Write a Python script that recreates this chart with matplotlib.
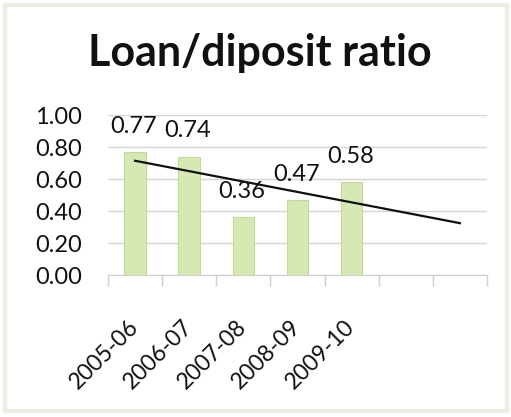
import numpy as np
import matplotlib
matplotlib.use("Agg")
import matplotlib.pyplot as plt
from matplotlib.patches import Rectangle

# Loan to deposit ratio by financial year
years = ["2005-06", "2006-07", "2007-08", "2008-09", "2009-10"]
ratios = [0.77, 0.74, 0.36, 0.47, 0.58]
y_ticks = [0.0, 0.2, 0.4, 0.6, 0.8, 1.0]
n_slots = 7          # category slots on the axis (trend forecasts two ahead)

plt.rcParams["font.family"] = ["Lato", "DejaVu Sans"]

fig = plt.figure(figsize=(5.11, 4.17), dpi=100)
ax = fig.add_axes([108 / 511, 1 - 275 / 417, 379 / 511, 160 / 417])

x = np.arange(len(ratios))
ax.bar(x, ratios, width=0.4, color="#d6e9b2", edgecolor="#c2d99a",
       linewidth=0.8, zorder=3)

# Linear trend fitted to the ratios, projected to the last slot
slope, intercept = np.polyfit(x, ratios, 1)
xt = np.array([0, n_slots - 1])
ax.plot(xt, slope * xt + intercept, color="#111111", lw=1.6, zorder=4)

for xi, v in zip(x, ratios):
    ax.annotate(f"{v:.2f}", (xi, v), xytext=(-1, 18.5), textcoords="offset points",
                ha="center", va="center", fontsize=17, color="#111111", zorder=5)

ax.set_xlim(-0.5, n_slots - 0.5)
ax.set_ylim(0, 1.0)
ax.set_yticks(y_ticks)
ax.set_yticklabels([f"{t:.2f}" for t in y_ticks])
ax.yaxis.grid(True, color="#d4d4d4", lw=1.0, zorder=0)
ax.tick_params(axis="y", length=0, pad=18.5, labelsize=17, labelcolor="#111111")

# Boundary ticks between categories, labels at category centres
ax.set_xticks(np.arange(-0.5, n_slots, 1.0))
ax.set_xticklabels([])
ax.tick_params(axis="x", which="major", length=8, color="#cfcfcf", width=1.0)
ax.set_xticks(x, minor=True)
ax.set_xticklabels(years, minor=True, rotation=45, ha="right", va="center",
                   rotation_mode="anchor", fontsize=16.5, color="#111111")
ax.tick_params(axis="x", which="minor", length=0, pad=35)

for s in ["left", "right", "top"]:
    ax.spines[s].set_visible(False)
ax.spines["bottom"].set_color("#cfcfcf")

fig.text(260 / 511, 1 - 66 / 417, "Loan/diposit ratio", ha="center",
         va="baseline", fontsize=31, fontweight="bold", color="#111111")

# Soft frame around the chart area
fig.patches.append(Rectangle((5 / 511, 6 / 417), 502 / 511, 406 / 417,
                             transform=fig.transFigure, fill=False,
                             edgecolor="#ebeee3", lw=3, zorder=0))

fig.savefig("out.png", dpi=100, facecolor="white")
